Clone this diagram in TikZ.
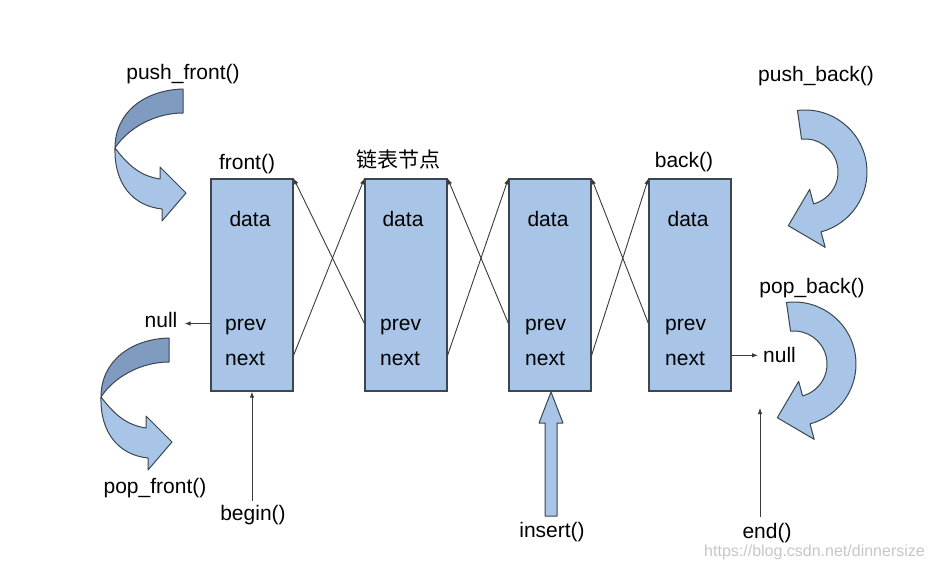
\documentclass[tikz,border=0pt]{standalone}
\usepackage{fontspec}
\setmainfont{Liberation Sans}
\newfontfamily\cjk{Noto Sans CJK SC}
\usetikzlibrary{arrows.meta,calc}
\definecolor{boxfill}{HTML}{A8C4E6}
\definecolor{boxline}{HTML}{3C4650}
\definecolor{darkrib}{HTML}{7F9BBF}
\definecolor{linkc}{HTML}{3A3A3A}
\tikzset{
  box/.style={draw=boxline, fill=boxfill, line width=1.2pt, minimum width=82pt, minimum height=212pt, inner sep=0pt},
  lbl/.style={font=\fontsize{21}{25}\selectfont, inner sep=0pt, text=black},
  link/.style={draw=linkc, line width=0.9pt, -{Latex[length=6pt,width=4.5pt]}},
  ribbon/.style={draw=boxline, line width=1pt, line join=round},
  frontrib/.pic={
    \filldraw[ribbon, fill=darkrib] (0,0) .. controls (-38,1) and (-68,23) .. (-68,59)
       .. controls (-55,39) and (-28,24) .. (0,24) -- cycle;
    \filldraw[ribbon, fill=boxfill] (-68,59) .. controls (-55,76) and (-43,87) .. (-23,90)
       -- (-23,78) -- (3,104) -- (-21,132) -- (-21,120)
       .. controls (-50,117) and (-69,95) .. (-68,59) -- cycle;
  },
  backrib/.pic={
    \filldraw[ribbon, fill=boxfill] (-97:62) arc[start angle=-97, end angle=75, radius=62]
       -- (75:78) -- (-16.7,53.7) -- (75:18) -- (75:33)
       arc[start angle=75, end angle=-96, radius=33] -- cycle;
  }
}
\begin{document}
\begin{tikzpicture}[x=1pt,y=-1pt]
\useasboundingbox (0,0) rectangle (933,569);
\fill[white] (0,0) rectangle (933,569);

% boxes
\node[box] (b1) at (252,285) {};
\node[box] (b2) at (406,285) {};
\node[box] (b3) at (550,285) {};
\node[box] (b4) at (690,285) {};

% box texts
\node[lbl,anchor=base] (d1) at (250,226) {data};
\node[lbl,anchor=base] (d2) at (403,226) {data};
\node[lbl,anchor=base] (d3) at (548,226) {data};
\node[lbl,anchor=base] (d4) at (688,226) {data};
\node[lbl,anchor=base west] (p1) at (225,330) {prev};
\node[lbl,anchor=base west] (p2) at (380,330) {prev};
\node[lbl,anchor=base west] (p3) at (525,330) {prev};
\node[lbl,anchor=base west] (p4) at (665,330) {prev};
\node[lbl,anchor=base west] (n1) at (225,365) {next};
\node[lbl,anchor=base west] (n2) at (380,365) {next};
\node[lbl,anchor=base west] (n3) at (525,365) {next};
\node[lbl,anchor=base west] (n4) at (665,365) {next};

% labels above boxes
\node[lbl,anchor=base] (fr) at (247,170) {front()};
\node[lbl,anchor=base] (cn) at (398,168) {\cjk 链表节点};
\node[lbl,anchor=base] (bk) at (684,168) {back()};

% crossing links
\draw[link] ($(b1.east |- n1.center)+(0,-3)$) -- (b2.north west);
\draw[link] ($(b2.west |- p2.center)+(0,-3)$) -- (b1.north east);
\draw[link] ($(b2.east |- n2.center)+(0,-3)$) -- (b3.north west);
\draw[link] ($(b3.west |- p3.center)+(0,-3)$) -- (b2.north east);
\draw[link] ($(b3.east |- n3.center)+(0,-3)$) -- (b4.north west);
\draw[link] ($(b4.west |- p4.center)+(0,-3)$) -- (b3.north east);

% nulls
\node[lbl,anchor=base] (nl) at (161,327) {null};
\node[lbl,anchor=base west] (nr) at (763,362) {null};
\draw[link] ($(b1.west |- p1.center)+(0,-3)$) -- ($(nl.east |- p1.center)+(7,-3)$);
\draw[link] ($(b4.east |- n4.center)+(0,-3)$) -- ($(nr.west |- n4.center)+(-5,-3)$);

% begin / end
\node[lbl,anchor=base] (bg) at (253,520) {begin()};
\draw[link] ($(bg.north -| b1.south)+(0,-4)$) -- (b1.south);
\node[lbl,anchor=base] (en) at (767,538) {end()};
\coordinate (endtop) at (760,408);
\draw[link] ($(en.north -| endtop)+(0,-6)$) -- (endtop);

% insert
\node[lbl,anchor=base] (ins) at (552,537) {insert()};
\filldraw[ribbon, fill=boxfill] (545,516) -- (545,423) -- (539,423) -- (551,392) -- (563,423) -- (557,423) -- (557,516) -- cycle;

% operations
\node[lbl,anchor=base] (pf) at (183,80) {push\_front()};
\node[lbl,anchor=base] (pof) at (155,493) {pop\_front()};
\node[lbl,anchor=base] (pb) at (816,82) {push\_back()};
\node[lbl,anchor=base] (pob) at (812,293) {pop\_back()};

\pic at (183,89) {frontrib};
\pic at (169,338) {frontrib};
\pic at (805,172) {backrib};
\pic at (794,364) {backrib};

% watermark
\node[anchor=base east, font=\fontsize{16}{18}\selectfont, text=black!22, inner sep=0pt] (wm) at (925,556) {https://blog.csdn.net/dinnersize};
\end{tikzpicture}
\end{document}
